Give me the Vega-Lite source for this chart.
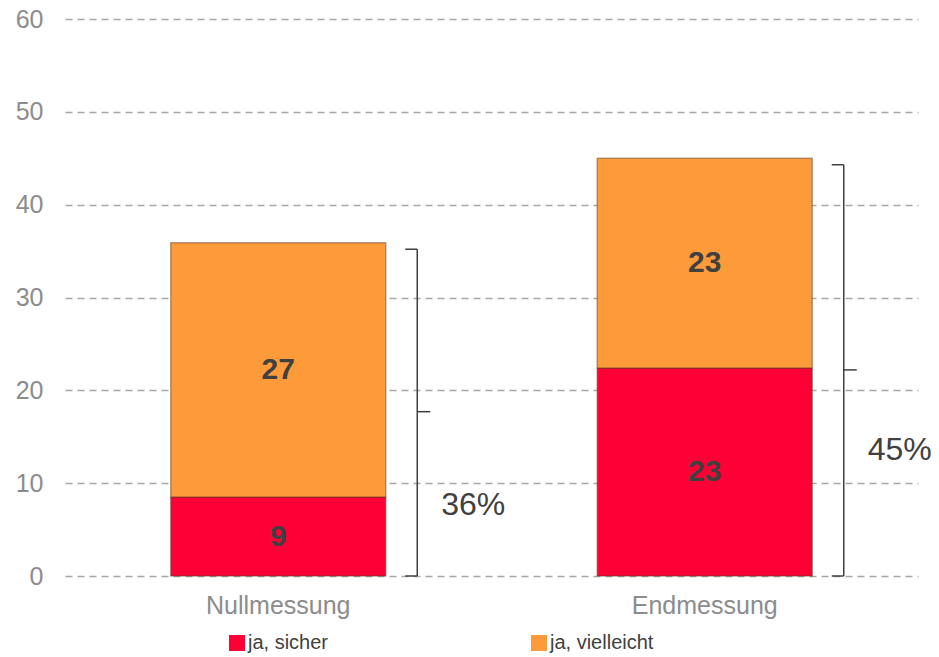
{
  "$schema": "https://vega.github.io/schema/vega-lite/v6.json",
  "width": 853,
  "height": 557,
  "autosize": {"type": "none"},
  "padding": {"left": 65, "top": 19, "right": 21, "bottom": 81},
  "background": "white",
  "config": {
    "view": {"stroke": null},
    "font": "Liberation Sans",
    "axis": {"labelFont": "Liberation Sans"},
    "legend": {"labelFont": "Liberation Sans"}
  },
  "datasets": {
    "bars": [
      {"Messung": "Nullmessung", "Antwort": "ja, sicher", "Wert": 8.5, "Label": "9"},
      {"Messung": "Nullmessung", "Antwort": "ja, vielleicht", "Wert": 27.4, "Label": "27"},
      {"Messung": "Endmessung", "Antwort": "ja, sicher", "Wert": 22.4, "Label": "23"},
      {"Messung": "Endmessung", "Antwort": "ja, vielleicht", "Wert": 22.6, "Label": "23"}
    ],
    "braces": [
      {"Messung": "Nullmessung", "oben": 35.2, "mitte": 17.7, "unten": 0, "Text": "36%", "pos": 7.6},
      {"Messung": "Endmessung", "oben": 44.3, "mitte": 22.2, "unten": 0, "Text": "45%", "pos": 13.6}
    ]
  },
  "layer": [
    {
      "data": {"name": "bars"},
      "transform": [
        {"stack": "Wert", "groupby": ["Messung"], "as": ["lo", "hi"], "sort": [{"field": "Antwort", "order": "ascending"}]}
      ],
      "mark": {"type": "bar", "width": 215, "stroke": "#5a3a20", "strokeOpacity": 0.45, "strokeWidth": 1.5},
      "encoding": {
        "x": {
          "field": "Messung", "type": "nominal", "sort": ["Nullmessung", "Endmessung"],
          "scale": {"paddingInner": 0, "paddingOuter": 0},
          "axis": {"title": null, "domain": false, "ticks": false, "labelAngle": 0, "labelFontSize": 25, "labelColor": "#8C8C8C", "labelPadding": 17}
        },
        "y": {
          "field": "lo", "type": "quantitative",
          "scale": {"domain": [0, 60], "nice": false},
          "axis": {"title": null, "values": [0, 10, 20, 30, 40, 50, 60], "domain": false, "ticks": false, "labelFontSize": 25, "labelColor": "#8C8C8C", "labelPadding": 22, "grid": true, "gridDash": [7, 5], "gridColor": "#A6A6A6", "gridWidth": 1.5}
        },
        "y2": {"field": "hi"},
        "color": {
          "field": "Antwort", "type": "nominal",
          "scale": {"domain": ["ja, sicher", "ja, vielleicht"], "range": ["#FF0036", "#FD9B3B"]},
          "legend": {
            "title": null, "orient": "none", "legendX": 162, "legendY": 614, "direction": "horizontal",
            "symbolType": "square", "symbolSize": 256, "symbolStrokeWidth": 0, "labelFontSize": 20, "labelColor": "#404040",
            "labelOffset": 1, "columnPadding": 200, "padding": 0
          }
        }
      }
    },
    {
      "data": {"name": "bars"},
      "transform": [
        {"stack": "Wert", "groupby": ["Messung"], "as": ["lo", "hi"], "sort": [{"field": "Antwort", "order": "ascending"}]},
        {"fold": ["lo", "hi"], "as": ["k", "v"]},
        {"aggregate": [{"op": "mean", "field": "v", "as": "mid"}], "groupby": ["Messung", "Antwort", "Label"]}
      ],
      "mark": {"type": "text", "fontSize": 30, "fontWeight": "bold", "color": "#404040", "baseline": "middle", "align": "center"},
      "encoding": {
        "x": {"field": "Messung", "type": "nominal", "sort": ["Nullmessung", "Endmessung"]},
        "y": {"field": "mid", "type": "quantitative"},
        "text": {"field": "Label"}
      }
    },
    {
      "data": {"name": "braces"},
      "mark": {"type": "rule", "xOffset": 139, "stroke": "#404040", "strokeWidth": 1.5},
      "encoding": {
        "x": {"field": "Messung", "type": "nominal", "sort": ["Nullmessung", "Endmessung"]},
        "y": {"field": "unten", "type": "quantitative"},
        "y2": {"field": "oben"}
      }
    },
    {
      "data": {"name": "braces"},
      "mark": {"type": "rule", "xOffset": 127, "x2Offset": 139, "stroke": "#404040", "strokeWidth": 1.5},
      "encoding": {
        "x": {"field": "Messung", "type": "nominal", "sort": ["Nullmessung", "Endmessung"]},
        "x2": {"field": "Messung"},
        "y": {"field": "oben", "type": "quantitative"}
      }
    },
    {
      "data": {"name": "braces"},
      "mark": {"type": "rule", "xOffset": 127, "x2Offset": 139, "stroke": "#404040", "strokeWidth": 1.5},
      "encoding": {
        "x": {"field": "Messung", "type": "nominal", "sort": ["Nullmessung", "Endmessung"]},
        "x2": {"field": "Messung"},
        "y": {"field": "unten", "type": "quantitative"}
      }
    },
    {
      "data": {"name": "braces"},
      "mark": {"type": "rule", "xOffset": 139, "x2Offset": 152, "stroke": "#404040", "strokeWidth": 1.5},
      "encoding": {
        "x": {"field": "Messung", "type": "nominal", "sort": ["Nullmessung", "Endmessung"]},
        "x2": {"field": "Messung"},
        "y": {"field": "mitte", "type": "quantitative"}
      }
    },
    {
      "data": {"name": "braces"},
      "mark": {"type": "text", "xOffset": 195, "fontSize": 32, "color": "#404040", "align": "center", "baseline": "middle"},
      "encoding": {
        "x": {"field": "Messung", "type": "nominal", "sort": ["Nullmessung", "Endmessung"]},
        "y": {"field": "pos", "type": "quantitative"},
        "text": {"field": "Text"}
      }
    }
  ]
}
